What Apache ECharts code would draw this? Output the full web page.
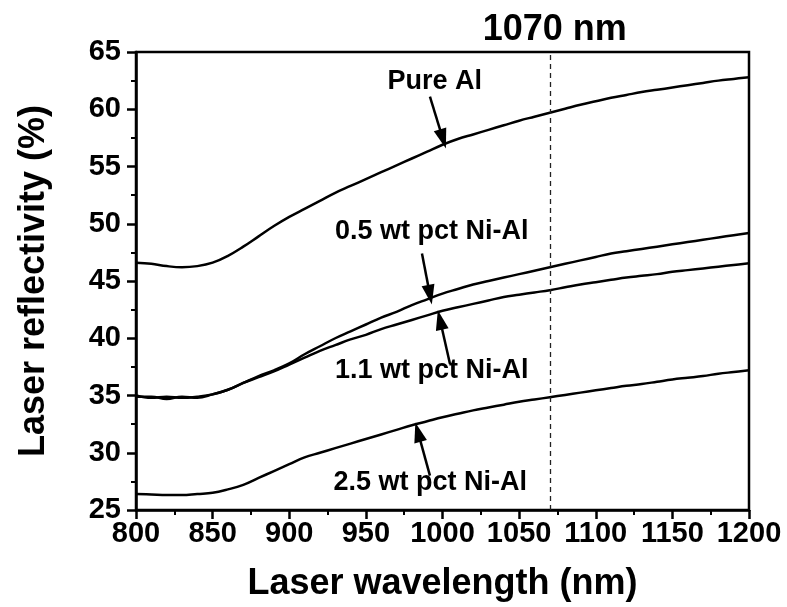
<!DOCTYPE html>
<html>
<head>
<meta charset="utf-8">
<script src="https://cdn.jsdelivr.net/npm/echarts@6/dist/echarts.min.js"></script>
<style>
  html, body { margin: 0; padding: 0; background: #fff; }
  #chart { width: 787px; height: 607px; }
</style>
</head>
<body>
<div id="chart"></div>
<script>
// Wavelength grid (nm)
const wavelength = [800, 810, 820, 830, 840, 850, 860, 870, 880, 890,
  900, 910, 920, 930, 940, 950, 960, 970, 980, 990,
  1000, 1010, 1020, 1030, 1040, 1050, 1060, 1070, 1080, 1090,
  1100, 1110, 1120, 1130, 1140, 1150, 1160, 1170, 1180, 1190, 1200];

// Reflectivity (%) for each alloy
const pureAl = [46.6, 46.5, 46.3, 46.2, 46.3, 46.6, 47.2, 48.0, 48.9, 49.8,
  50.6, 51.3, 52.0, 52.7, 53.3, 53.9, 54.5, 55.1, 55.7, 56.3,
  56.9, 57.4, 57.8, 58.2, 58.6, 59.0, 59.35, 59.7, 60.05, 60.4,
  60.7, 61.0, 61.25, 61.5, 61.7, 61.9, 62.1, 62.3, 62.5, 62.65, 62.8];

const ni05 = [35.0, 34.8, 34.9, 34.8, 34.9, 35.1, 35.5, 36.1, 36.7, 37.2,
  37.8, 38.6, 39.3, 40.0, 40.6, 41.2, 41.8, 42.3, 42.9, 43.4,
  43.9, 44.3, 44.7, 45.0, 45.3, 45.6, 45.9, 46.2, 46.5, 46.8,
  47.1, 47.4, 47.6, 47.8, 48.0, 48.2, 48.4, 48.6, 48.8, 49.0, 49.2];

const ni11 = [34.9, 34.9, 34.7, 34.9, 34.8, 35.1, 35.5, 36.1, 36.6, 37.1,
  37.7, 38.3, 38.9, 39.4, 39.9, 40.3, 40.8, 41.2, 41.6, 42.0,
  42.4, 42.7, 43.0, 43.3, 43.6, 43.8, 44.0, 44.2, 44.45, 44.7,
  44.9, 45.1, 45.3, 45.45, 45.6, 45.8, 45.95, 46.1, 46.25, 46.4, 46.55];

const ni25 = [26.4, 26.35, 26.3, 26.3, 26.4, 26.5, 26.8, 27.2, 27.8, 28.4,
  29.0, 29.6, 30.0, 30.4, 30.8, 31.2, 31.6, 32.0, 32.4, 32.75,
  33.1, 33.4, 33.7, 33.95, 34.2, 34.45, 34.65, 34.85, 35.05, 35.25,
  35.45, 35.65, 35.85, 36.0, 36.2, 36.4, 36.55, 36.7, 36.9, 37.05, 37.2];

const seriesNames = ['Pure Al', '0.5 wt pct Ni-Al', '1.1 wt pct Ni-Al', '2.5 wt pct Ni-Al'];
const seriesValues = [pureAl, ni05, ni11, ni25];

// Marked laser wavelength
const markedWavelength = 1070;

// Annotation placement in data units: label centre, arrow tail, arrow tip
const labelAt = [[995, 62.4], [993, 49.3], [993, 37.15], [992, 27.4]];
const arrowTail = [[991.8, 61.1], [986.6, 47.4], [1004.9, 37.75], [991.8, 28.0]];
const arrowTip = [[1000.3, 57.4], [991.8, 43.8], [998.4, 41.6], [984.0, 31.8]];

const FONT = '"Liberation Sans", Arial, sans-serif';
const NARROW = '"Liberation Sans Narrow", "Liberation Sans", Arial, sans-serif';

const series = seriesValues.map((vals, i) => ({
  name: seriesNames[i],
  type: 'line',
  data: wavelength.map((w, j) => [w, vals[j]]),
  smooth: 0.4,
  showSymbol: false,
  lineStyle: { color: '#000', width: 2.5 },
  z: 3,
  markLine: {
    silent: true,
    symbol: ['none', 'triangle'],
    symbolSize: [13, 20],
    lineStyle: { color: '#000', width: 2.5, type: 'solid' },
    label: { show: false },
    data: [[{ coord: arrowTail[i] }, { coord: arrowTip[i] }]]
  }
}));

// Curve labels
series.push({
  type: 'scatter',
  silent: true,
  symbolSize: 2,
  itemStyle: { color: 'rgba(255,255,255,0)' },
  z: 5,
  data: labelAt.map((p, i) => ({ value: p, name: seriesNames[i] })),
  label: {
    show: true,
    position: 'inside',
    formatter: p => p.name,
    color: '#000',
    opacity: 1,
    textBorderWidth: 0,
    fontFamily: FONT,
    fontWeight: 'bold',
    fontSize: 27
  },
  labelLayout: { hideOverlap: false }
});

// Vertical dashed reference line at the marked wavelength
series.push({
  type: 'line',
  data: [],
  markLine: {
    silent: true,
    symbol: ['none', 'none'],
    lineStyle: { color: '#222', width: 1.3, type: [5, 4] },
    label: {
      show: true,
      position: 'end',
      formatter: markedWavelength + ' nm',
      color: '#000',
      fontFamily: FONT,
      fontWeight: 'bold',
      fontSize: 36,
      distance: 4,
      offset: [5, 0]
    },
    data: [{ xAxis: markedWavelength }]
  }
});

const chart = echarts.init(document.getElementById('chart'), null, { renderer: 'canvas' });
chart.setOption({
  animation: false,
  backgroundColor: '#fff',
  grid: {
    left: 136, right: 38, top: 52, bottom: 94,
    show: true, borderColor: '#000', borderWidth: 2.5
  },
  xAxis: {
    type: 'value',
    min: 800, max: 1200, interval: 50,
    name: 'Laser wavelength (nm)',
    nameLocation: 'middle',
    nameGap: 56,
    nameTextStyle: { color: '#000', fontFamily: FONT, fontWeight: 'bold', fontSize: 36 },
    axisLine: { lineStyle: { color: '#000', width: 2.5 } },
    axisTick: { length: 9, lineStyle: { color: '#000', width: 2.5 } },
    minorTick: { show: true, splitNumber: 2, length: 5, lineStyle: { color: '#000', width: 2 } },
    splitLine: { show: false },
    axisLabel: {
      color: '#000', fontFamily: NARROW, fontWeight: 'bold', fontSize: 29, margin: 9,
      formatter: v => String(v)
    }
  },
  yAxis: {
    type: 'value',
    min: 25, max: 65, interval: 5,
    name: 'Laser reflectivity (%)',
    nameLocation: 'middle',
    nameGap: 84,
    nameTextStyle: { color: '#000', fontFamily: FONT, fontWeight: 'bold', fontSize: 36 },
    axisLine: { lineStyle: { color: '#000', width: 2.5 } },
    axisTick: { length: 9, lineStyle: { color: '#000', width: 2.5 } },
    minorTick: { show: true, splitNumber: 2, length: 5, lineStyle: { color: '#000', width: 2 } },
    splitLine: { show: false },
    axisLabel: { color: '#000', fontFamily: FONT, fontWeight: 'bold', fontSize: 29, margin: 15 }
  },
  series: series
});
</script>
</body>
</html>
